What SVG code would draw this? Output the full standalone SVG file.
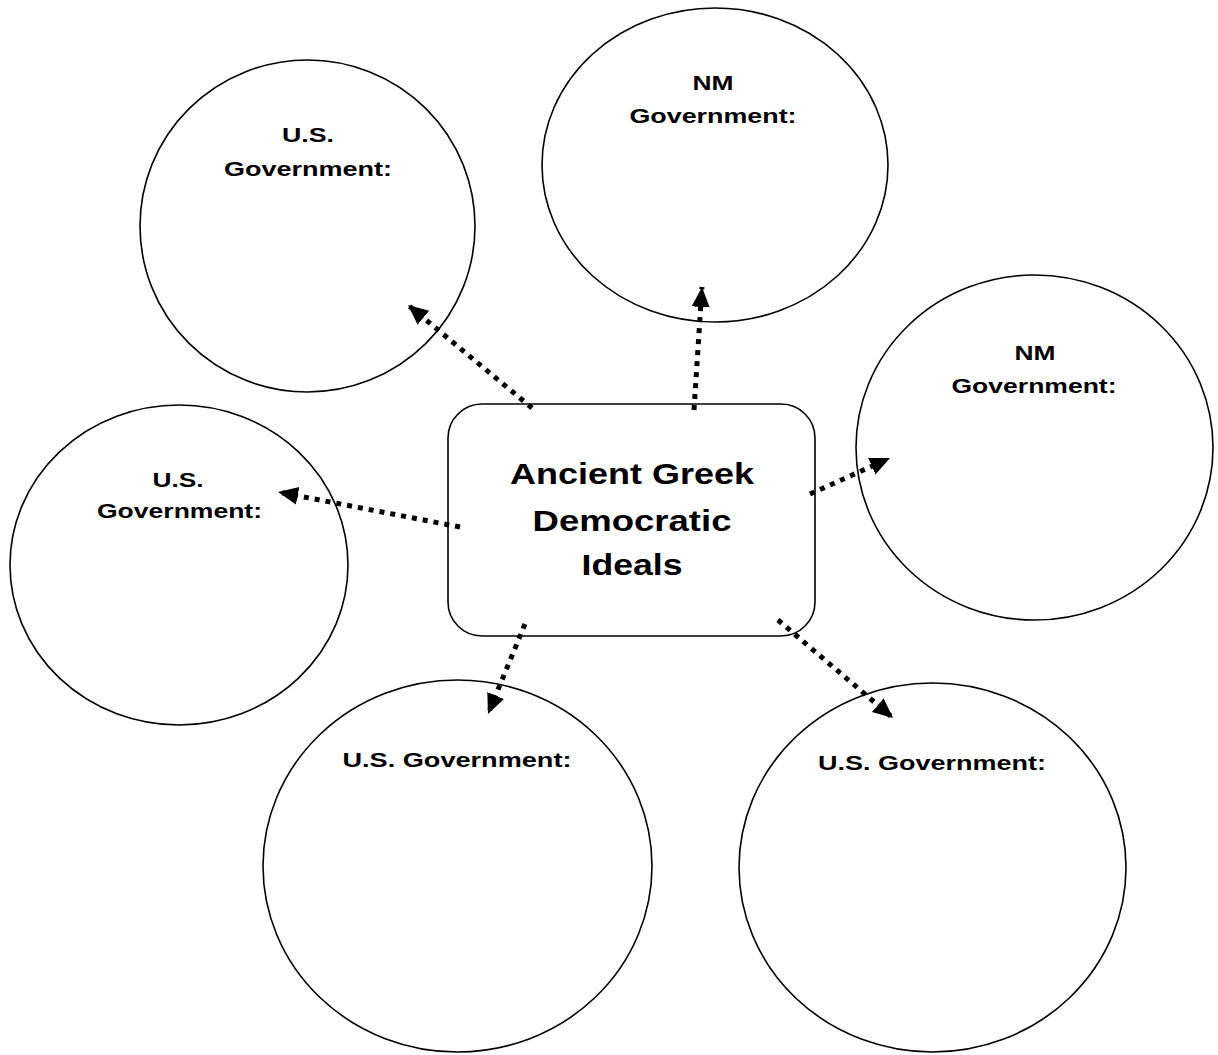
<svg xmlns="http://www.w3.org/2000/svg" width="1218" height="1055" viewBox="0 0 1218 1055">
<style>
.node{fill:#fff;stroke:#000;stroke-width:1.6}
.lbl{font-family:"Liberation Sans",Arial,sans-serif;font-weight:bold;font-size:21px;fill:#000;text-anchor:middle}
.main{font-family:"Liberation Sans",Arial,sans-serif;font-weight:bold;font-size:30px;fill:#000;text-anchor:middle}
.conn{fill:none;stroke:#000;stroke-width:5;stroke-dasharray:5 6}
</style>
<defs>
<marker id="ah" markerUnits="userSpaceOnUse" markerWidth="22" markerHeight="20" refX="20" refY="9" orient="auto">
<path d="M0,0 L20,9 L0,18 Z" fill="#000"/>
</marker>
</defs>
<rect width="1218" height="1055" fill="#fff"/>
<g id="node-us1">
<ellipse class="node" cx="307.5" cy="226" rx="167.5" ry="166"/>
<text class="lbl" x="308" y="142" textLength="52" lengthAdjust="spacingAndGlyphs">U.S.</text>
<text class="lbl" x="308" y="176" textLength="168" lengthAdjust="spacingAndGlyphs">Government:</text>
</g>
<g id="node-nm1">
<ellipse class="node" cx="715" cy="165" rx="173" ry="157"/>
<text class="lbl" x="713" y="90" textLength="41" lengthAdjust="spacingAndGlyphs">NM</text>
<text class="lbl" x="713" y="123" textLength="167" lengthAdjust="spacingAndGlyphs">Government:</text>
</g>
<g id="node-nm2">
<ellipse class="node" cx="1034.5" cy="447.5" rx="178.5" ry="172.5"/>
<text class="lbl" x="1035" y="360" textLength="41" lengthAdjust="spacingAndGlyphs">NM</text>
<text class="lbl" x="1034" y="393" textLength="165" lengthAdjust="spacingAndGlyphs">Government:</text>
</g>
<g id="node-us2">
<ellipse class="node" cx="179" cy="565" rx="169" ry="160"/>
<text class="lbl" x="178" y="487" textLength="51" lengthAdjust="spacingAndGlyphs">U.S.</text>
<text class="lbl" x="179.5" y="518" textLength="165" lengthAdjust="spacingAndGlyphs">Government:</text>
</g>
<g id="node-us3">
<ellipse class="node" cx="457.5" cy="866" rx="194.5" ry="186"/>
<text class="lbl" x="457" y="767" textLength="229" lengthAdjust="spacingAndGlyphs">U.S. Government:</text>
</g>
<g id="node-us4">
<ellipse class="node" cx="932.5" cy="867.5" rx="193.5" ry="184.5"/>
<text class="lbl" x="932" y="770" textLength="228" lengthAdjust="spacingAndGlyphs">U.S. Government:</text>
</g>
<g id="node-center">
<rect class="node" x="448" y="404" width="367" height="232" rx="34" ry="34"/>
<text class="main" x="632" y="484" textLength="244" lengthAdjust="spacingAndGlyphs">Ancient Greek</text>
<text class="main" x="632" y="531" textLength="199" lengthAdjust="spacingAndGlyphs">Democratic</text>
<text class="main" x="632" y="575" textLength="101" lengthAdjust="spacingAndGlyphs">Ideals</text>
</g>
<g id="connectors">
<path class="conn" d="M532,408 L408,305" marker-end="url(#ah)"/>
<path class="conn" d="M694,410 L702,287" marker-end="url(#ah)"/>
<path class="conn" d="M810,494 L890,458" marker-end="url(#ah)"/>
<path class="conn" d="M460,527 L278,492" marker-end="url(#ah)"/>
<path class="conn" d="M525,624 L488,714" marker-end="url(#ah)"/>
<path class="conn" d="M778,620 L893,718" marker-end="url(#ah)"/>
</g>
</svg>
